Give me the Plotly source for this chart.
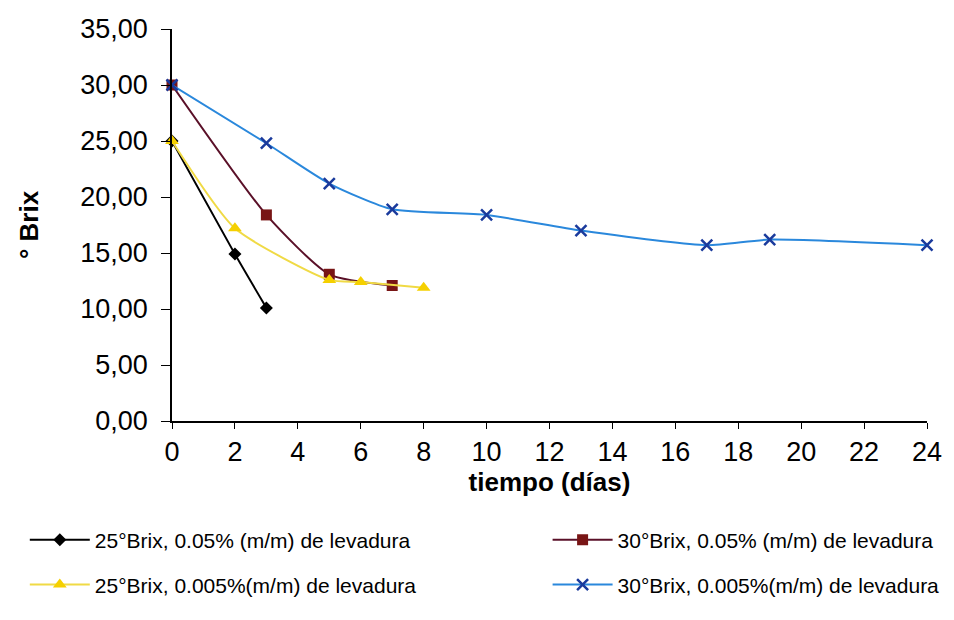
import plotly.graph_objects as go

# Data
x_25_005 = [0, 2, 3]
y_25_005 = [25.0, 14.9, 10.1]

x_30_005 = [0, 3, 5, 7]
y_30_005 = [30.0, 18.4, 13.1, 12.1]

x_25_0005 = [0, 2, 5, 6, 8]
y_25_0005 = [25.0, 17.2, 12.6, 12.4, 11.9]

x_30_0005 = [0, 3, 5, 7, 10, 13, 17, 19, 24]
y_30_0005 = [30.0, 24.8, 21.2, 18.9, 18.4, 17.0, 15.7, 16.2, 15.7]

names = [
    "25°Brix, 0.05% (m/m) de levadura",
    "30°Brix, 0.05% (m/m) de levadura",
    "25°Brix, 0.005%(m/m) de levadura",
    "30°Brix, 0.005%(m/m) de levadura",
]

x_ticks = list(range(0, 25, 2))
y_ticks = [0, 5, 10, 15, 20, 25, 30, 35]

FONT = "Liberation Sans, Arial, sans-serif"

fig = go.Figure()
fig.add_trace(go.Scatter(
    x=x_25_005, y=y_25_005, name=names[0], mode="lines+markers",
    line=dict(color="#000000", width=2, shape="spline", smoothing=0.6),
    marker=dict(symbol="diamond", size=10, color="#000000"),
    cliponaxis=False, legend="legend"))
fig.add_trace(go.Scatter(
    x=x_30_005, y=y_30_005, name=names[1], mode="lines+markers",
    line=dict(color="#5a1028", width=2, shape="spline", smoothing=0.6),
    marker=dict(symbol="square", size=11, color="#781515"),
    cliponaxis=False, legend="legend2"))
fig.add_trace(go.Scatter(
    x=x_25_0005, y=y_25_0005, name=names[2], mode="lines+markers",
    line=dict(color="#F0DA45", width=2, shape="spline", smoothing=0.6),
    marker=dict(symbol="triangle-up", size=12, color="#F5D000"),
    cliponaxis=False, legend="legend3"))
fig.add_trace(go.Scatter(
    x=x_30_0005, y=y_30_0005, name=names[3], mode="lines+markers",
    line=dict(color="#2A88DC", width=2, shape="spline", smoothing=0.6),
    marker=dict(symbol="x-thin", size=11, color="#1A3A9C",
                line=dict(width=2.5, color="#1A3A9C")),
    cliponaxis=False, legend="legend4"))

def leg(x, y):
    return dict(
        x=x, y=y, xref="container", yref="container",
        xanchor="left", yanchor="middle", orientation="h",
        font=dict(family=FONT, size=21, color="#000000"),
        itemwidth=60, bgcolor="rgba(0,0,0,0)",
    )

fig.update_layout(
    width=954, height=620,
    margin=dict(l=172, r=17, t=29, b=199),
    paper_bgcolor="white", plot_bgcolor="white",
    separators=",.",
    font=dict(family=FONT, size=27, color="#000000"),
    showlegend=True,
    legend=leg(0.026, 0.129),
    legend2=leg(0.574, 0.129),
    legend3=leg(0.026, 0.0565),
    legend4=leg(0.574, 0.0565),
    xaxis=dict(
        range=[0, 24], tickvals=x_ticks, ticktext=[str(v) for v in x_ticks],
        showgrid=False, zeroline=False, showline=True, linecolor="#000000",
        linewidth=1.5, ticks="outside", ticklen=6, tickcolor="#000000",
        tickfont=dict(family=FONT, size=27),
        title=dict(text="<b>tiempo (días)</b>", font=dict(family=FONT, size=26), standoff=0),
    ),
    yaxis=dict(
        range=[0, 35], tickvals=y_ticks, tickformat=".2f",
        showgrid=False, zeroline=False, showline=True, linecolor="#000000",
        linewidth=1.5, ticks="outside", ticklen=9, tickcolor="#000000",
        ticklabelstandoff=8,
        tickfont=dict(family=FONT, size=27),
        title=dict(text="<b>° Brix</b>", font=dict(family=FONT, size=26), standoff=34),
    ),
)

fig.write_html("out.html")
